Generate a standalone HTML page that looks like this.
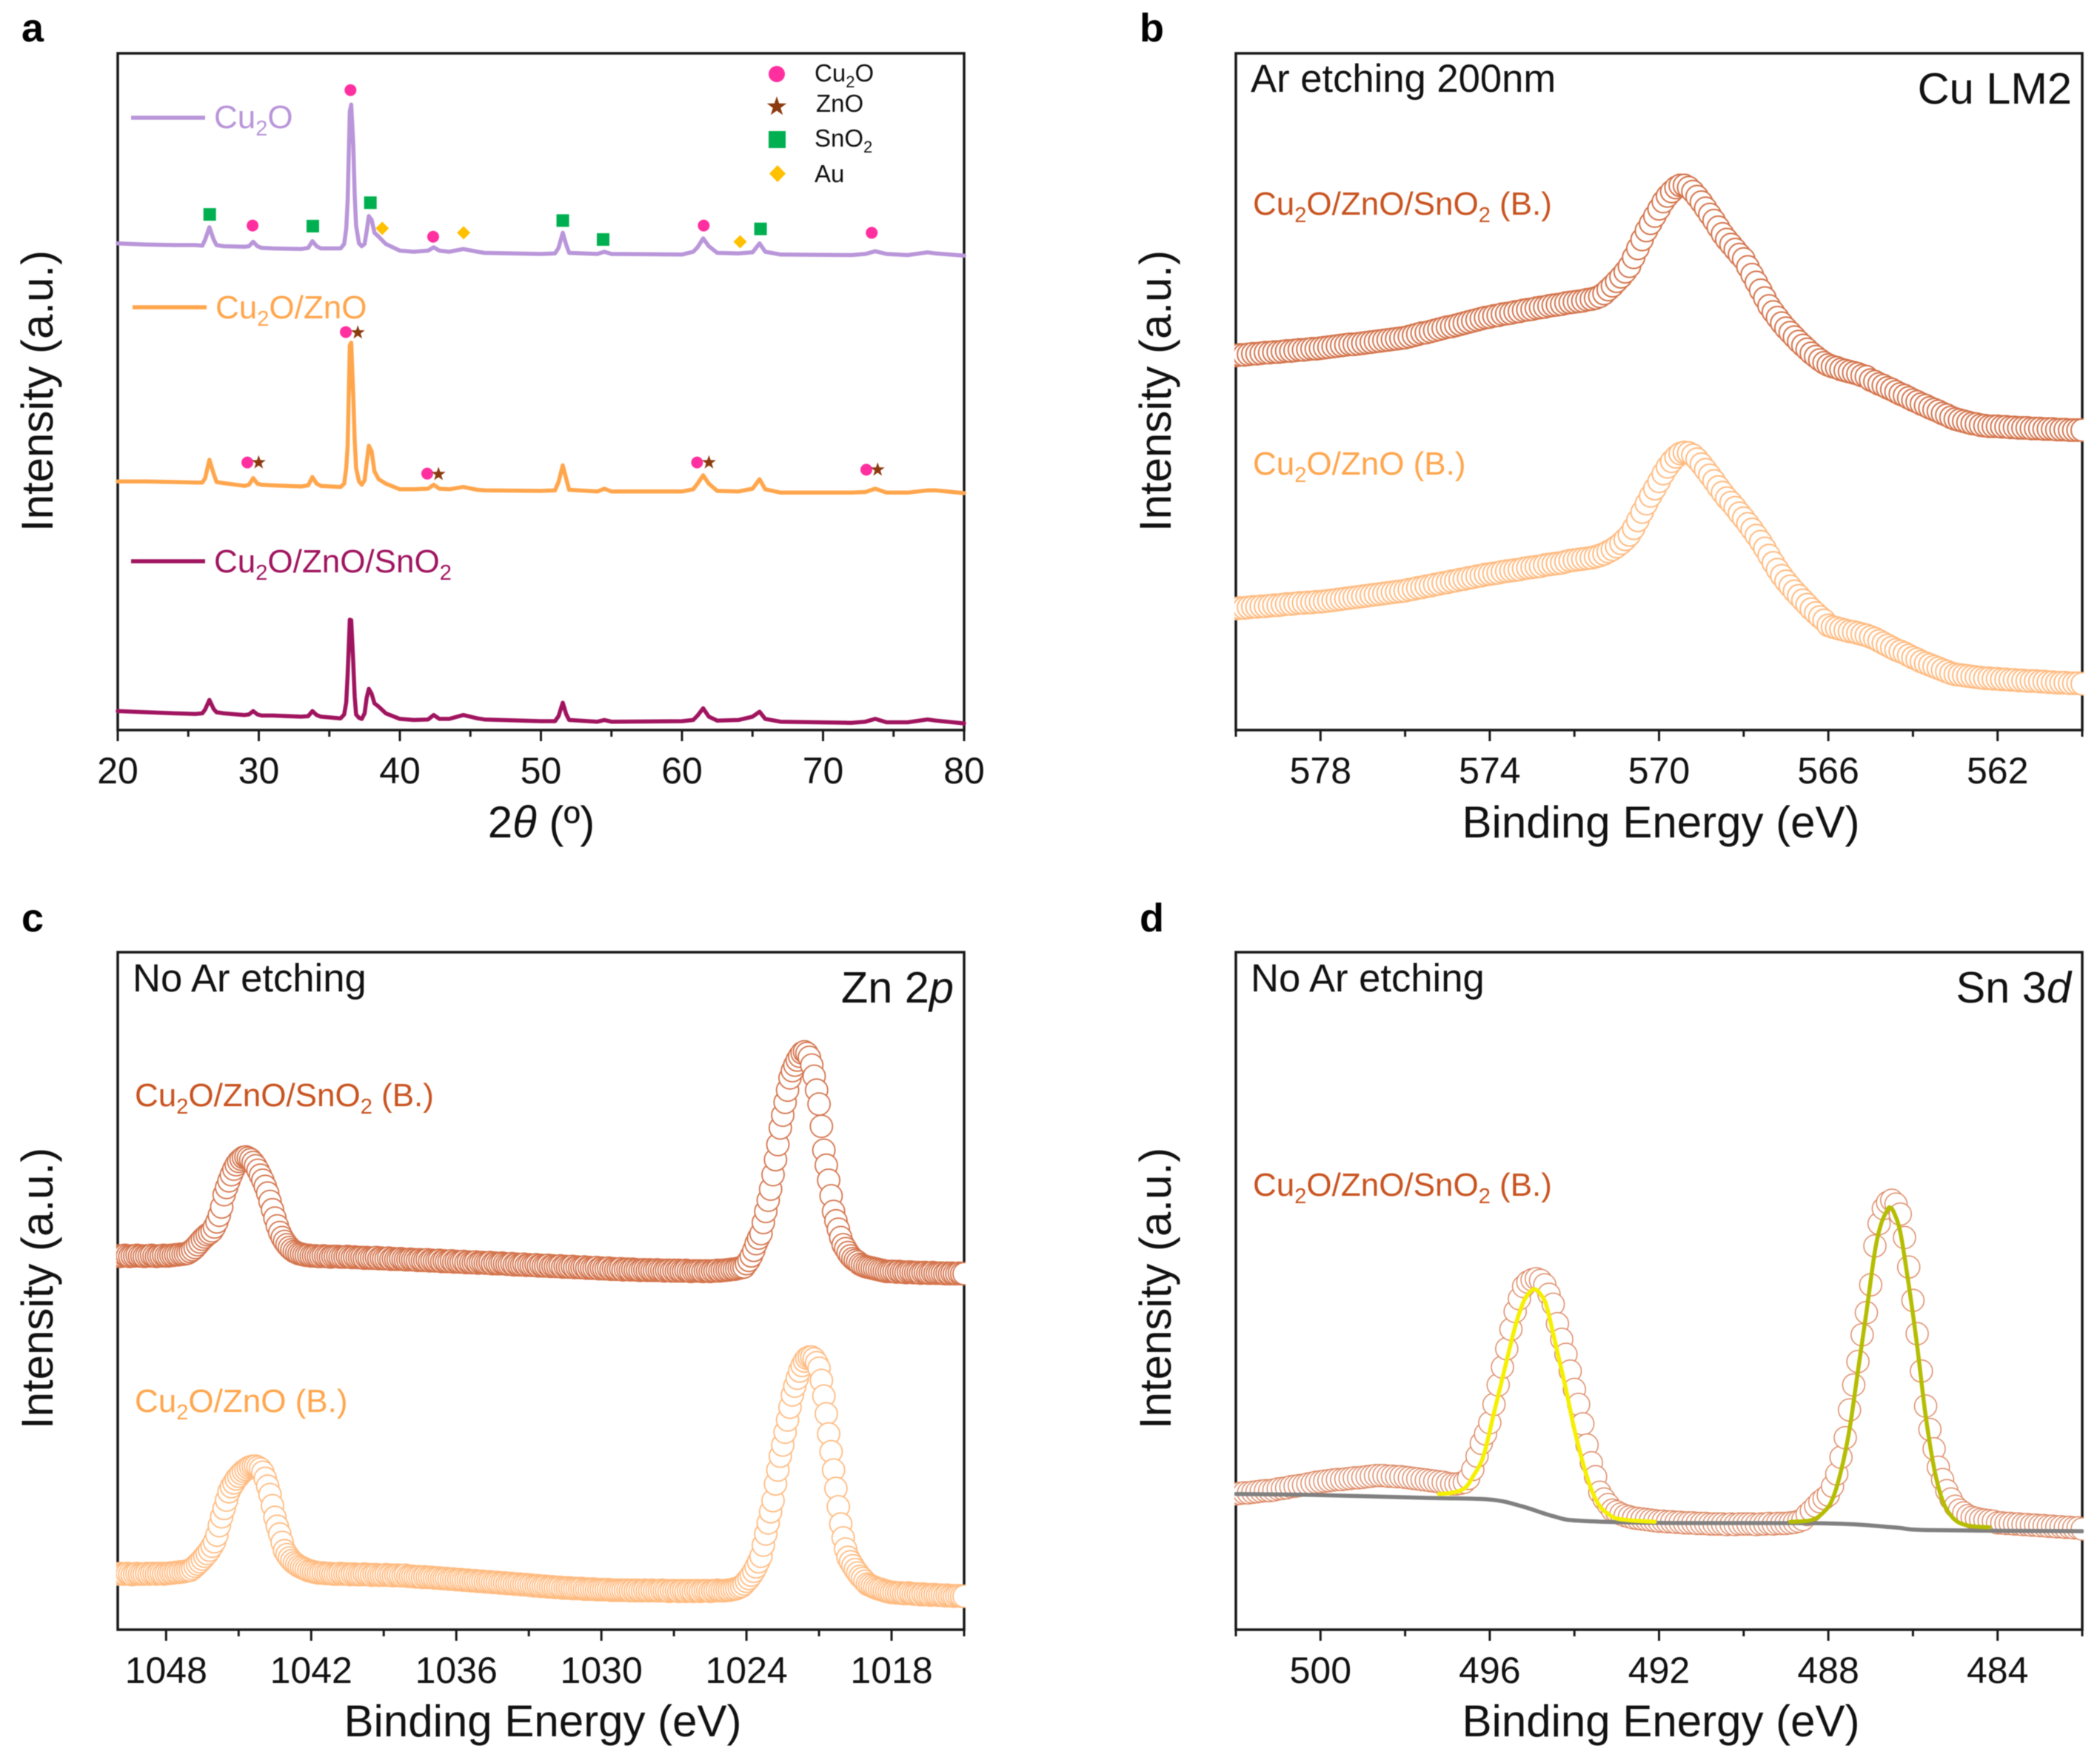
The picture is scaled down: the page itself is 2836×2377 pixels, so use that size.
<!DOCTYPE html>
<html lang="en">
<head>
<meta charset="utf-8">
<title>XRD and XPS characterization panels</title>
<style>
html,body{margin:0;padding:0;background:#fff;}
svg{display:block;filter:blur(0.6px);}
text{font-family:"Liberation Sans",Arial,sans-serif;fill:#111;}
.tick{font-size:50px;text-anchor:middle;}
.axis{font-size:60px;text-anchor:middle;}
.note{font-size:52.6px;}
.core{font-size:59.5px;}
.sample{font-size:44px;}
.leg{font-size:33px;}
.letter{font-size:54px;font-weight:bold;fill:#000;}
</style>
</head>
<body>
<svg id="figure" xmlns="http://www.w3.org/2000/svg" width="2836" height="2377" viewBox="0 0 2836 2377">
<defs>
<clipPath id="clip-b"><rect x="1667" y="72" width="1147" height="914"/></clipPath>
<clipPath id="clip-c"><rect x="157" y="1286" width="1147" height="915"/></clipPath>
<clipPath id="clip-d"><rect x="1667" y="1286" width="1147" height="915"/></clipPath>
</defs>
<rect x="0" y="0" width="2836" height="2377" fill="#ffffff"/>

<rect x="159" y="72" width="1143" height="914" fill="none" stroke="#1a1a1a" stroke-width="3.5"/>
<rect x="1669" y="72" width="1143" height="914" fill="none" stroke="#1a1a1a" stroke-width="3.5"/>
<rect x="159" y="1286" width="1143" height="915" fill="none" stroke="#1a1a1a" stroke-width="3.5"/>
<rect x="1669" y="1286" width="1143" height="915" fill="none" stroke="#1a1a1a" stroke-width="3.5"/>

<g id="layer-a"></g>
<g id="layer-b" clip-path="url(#clip-b)"></g>
<g id="layer-c" clip-path="url(#clip-c)"></g>
<g id="layer-d" clip-path="url(#clip-d)"></g>
<g id="layer-ticks"></g>

<text class="letter" x="29" y="56">a</text>
<text class="letter" x="1539" y="56">b</text>
<text class="letter" x="29" y="1258">c</text>
<text class="letter" x="1539" y="1258">d</text>

<text class="axis" transform="translate(71,528) rotate(-90)">Intensity (a.u.)</text>
<text class="axis" transform="translate(1581,528) rotate(-90)">Intensity (a.u.)</text>
<text class="axis" transform="translate(71,1740) rotate(-90)">Intensity (a.u.)</text>
<text class="axis" transform="translate(1581,1740) rotate(-90)">Intensity (a.u.)</text>

<text class="axis" x="731" y="1131">2<tspan font-style="italic">θ</tspan> (º)</text>
<text class="axis" x="2243" y="1131">Binding Energy (eV)</text>
<text class="axis" x="733" y="2345">Binding Energy (eV)</text>
<text class="axis" x="2243" y="2345">Binding Energy (eV)</text>

<text class="note" x="1689" y="124">Ar etching 200nm</text>
<text class="core" x="2798" y="140" text-anchor="end">Cu LM2</text>
<text class="note" x="179" y="1339">No Ar etching</text>
<text class="core" x="1288" y="1354" text-anchor="end">Zn 2<tspan font-style="italic">p</tspan></text>
<text class="note" x="1689" y="1339">No Ar etching</text>
<text class="core" x="2797" y="1354" text-anchor="end">Sn 3<tspan font-style="italic">d</tspan></text>

<text class="sample" x="1692" y="290" style="fill:#c9531f">Cu<tspan dy="10" font-size="29">2</tspan><tspan dy="-10">O/ZnO/SnO</tspan><tspan dy="10" font-size="29">2</tspan><tspan dy="-10"> (B.)</tspan></text>
<text class="sample" x="1692" y="641" style="fill:#ffa64d">Cu<tspan dy="10" font-size="29">2</tspan><tspan dy="-10">O/ZnO (B.)</tspan></text>
<text class="sample" x="182" y="1494" style="fill:#c9531f">Cu<tspan dy="10" font-size="29">2</tspan><tspan dy="-10">O/ZnO/SnO</tspan><tspan dy="10" font-size="29">2</tspan><tspan dy="-10"> (B.)</tspan></text>
<text class="sample" x="182" y="1907" style="fill:#ffa64d">Cu<tspan dy="10" font-size="29">2</tspan><tspan dy="-10">O/ZnO (B.)</tspan></text>
<text class="sample" x="1692" y="1615" style="fill:#c9531f">Cu<tspan dy="10" font-size="29">2</tspan><tspan dy="-10">O/ZnO/SnO</tspan><tspan dy="10" font-size="29">2</tspan><tspan dy="-10"> (B.)</tspan></text>

<line x1="177" y1="159" x2="277" y2="159" stroke="#b995d9" stroke-width="5.5"/>
<text class="sample" x="289" y="173" style="fill:#b995d9">Cu<tspan dy="10" font-size="29">2</tspan><tspan dy="-10">O</tspan></text>
<line x1="179" y1="415" x2="279" y2="415" stroke="#ffa64d" stroke-width="5.5"/>
<text class="sample" x="291" y="430" style="fill:#ffa64d">Cu<tspan dy="10" font-size="29">2</tspan><tspan dy="-10">O/ZnO</tspan></text>
<line x1="177" y1="758" x2="277" y2="758" stroke="#a0145f" stroke-width="5.5"/>
<text class="sample" x="289" y="773" style="fill:#a0145f">Cu<tspan dy="10" font-size="29">2</tspan><tspan dy="-10">O/ZnO/SnO</tspan><tspan dy="10" font-size="29">2</tspan></text>

<circle cx="1049" cy="100" r="11" fill="#ff2fa0"/>
<text class="leg" x="1100" y="110">Cu<tspan dy="8" font-size="22">2</tspan><tspan dy="-8">O</tspan></text>
<polygon points="1049,130 1052.2,139.6 1062.3,139.7 1054.2,145.7 1057.2,155.3 1049,149.5 1040.8,155.3 1043.8,145.7 1035.7,139.7 1045.8,139.6" fill="#8b3a0e"/>
<text class="leg" x="1102" y="151">ZnO</text>
<rect x="1038" y="177" width="23" height="23" fill="#00b050"/>
<text class="leg" x="1100" y="198">SnO<tspan dy="8" font-size="22">2</tspan></text>
<polygon points="1050,223 1061,234.5 1050,246 1039,234.5" fill="#ffc000"/>
<text class="leg" x="1100" y="246">Au</text>
</svg>

<script>
// ---------- Panel a: XRD ----------
const thetaA = [20,22,24,25.5,26,26.2,26.5,26.8,27,27.5,29,29.3,29.6,29.9,30.2,31,33,33.5,33.8,34.1,34.4,35.8,36.05,36.2,36.3,36.45,36.55,36.7,36.8,36.9,37.1,37.3,37.5,37.65,37.8,38,38.2,38.5,39,40,41,42,42.4,42.8,43.5,44.5,45.5,46,50,51,51.25,51.55,51.8,52,54,54.5,55,60,60.8,61.1,61.5,61.9,62.5,64,65,65.5,65.9,67,72,73,73.7,74.5,76,77.4,78,80];
const xrdCu2O = [873,871,870,870,869,880,902,880,870,868,867,868,876,868,865,864,863,865,877,868,864,864,872,900,950,1110,1122,1050,960,905,873,868,872,895,922,915,892,885,872,860,858,860,866,860,858,863,858,856,854,855,865,892,870,856,854,858,854,853,858,866,882,868,856,855,857,873,858,853,852,854,859,854,852,857,855,851];
const xrdCu2OZnO = [446,446,445,444,444,452,485,460,445,443,438,440,452,442,440,439,437,439,454,442,438,436,442,470,510,690,695,600,520,470,446,440,448,480,510,500,464,450,442,432,432,433,440,433,432,436,431,430,429,430,445,475,450,431,428,433,428,428,432,442,457,442,429,428,433,450,432,426,426,427,433,426,426,430,430,425];
const xrdTernary = [34,32,30,29,30,37,54,38,32,30,27,28,34,28,26,26,24,25,34,27,24,21,28,50,100,198,197,120,60,28,22,20,30,58,74,65,48,42,30,20,18,19,27,20,20,27,21,19,16,16,25,49,28,18,15,18,15,16,18,26,39,24,17,18,24,33,20,15,13,15,20,14,14,19,17,12];
const ticksMajorA = [20,30,40,50,60,70,80];
const ticksMinorA = [25,35,45,55,65,75];
const cu2oMarkerTheta = [29.56,36.5,42.36,61.54,73.45,36.17,29.19,41.94,61.07,73.07];
const cu2oMarkerIntensity = [905,1148,885,905,892,714,480,460,480,467];
const znoMarkerTheta = [37.02,29.99,42.74,61.91,73.87];
const znoMarkerIntensity = [713,480,459,480,467];
const sno2MarkerTheta = [26.52,33.83,37.91,51.55,54.41,65.57];
const sno2MarkerIntensity = [925,904,946,914,880,899];
const auMarkerTheta = [38.75,44.52,64.12];
const auMarkerIntensity = [900,892,876];

// ---------- Panel b: Cu LM2, scan 580 to 560 eV in 0.1 eV steps ----------
const scanStepEV = 0.1;
const ticksMajorB = [578,574,570,566,562];
const ticksMinorB = [580,576,572,568,564,560];
const cuLmTernary = [672,673,673,674,675,675,676,677,677,678,678,679,680,680,681,682,682,683,684,684,
685,686,687,688,689,690,691,692,692,693,694,695,696,697,698,699,700,701,702,703,
704,706,708,710,712,713,715,717,719,721,723,724,726,728,730,732,734,736,738,740,
741,743,744,746,747,748,750,751,753,754,755,757,758,759,761,762,763,764,766,767,
768,769,770,772,773,775,778,783,790,797,
805,813,822,832,848,864,880,896,909,922,
935,948,958,966,973,977,977,973,966,957,
947,936,925,914,902,890,880,871,862,853,
845,831,817,803,789,775,761,750,740,730,
721,713,705,697,690,683,676,670,664,659,
655,652,650,647,645,643,641,639,636,634,
628,625,621,618,614,611,607,603,600,596,
592,589,585,582,578,575,572,568,565,561,
558,556,554,552,550,549,547,546,545,545,
545,544,544,543,543,542,542,542,541,541,
541,540,540,540,539,539,539,538,538,538,
538];
const cuLmBinary = [218,219,219,220,221,221,222,222,223,224,224,225,226,226,227,228,228,229,229,230,
230,231,232,233,234,235,236,237,238,239,240,241,242,243,244,245,246,247,248,249,
250,252,253,255,256,258,259,261,262,264,265,267,268,270,271,273,274,276,277,279,
280,281,282,284,285,286,287,288,290,291,292,293,294,296,297,298,299,300,302,304,
305,306,307,308,309,311,313,316,320,324,
329,335,342,350,362,376,391,406,420,433,
446,460,472,482,490,496,498,497,493,486,
477,467,457,447,436,426,416,408,399,389,
380,370,360,349,338,326,313,300,288,277,
267,258,249,241,233,225,217,210,203,197,
188,185,183,181,179,177,176,174,172,170,
167,164,160,156,152,148,144,141,138,134,
130,127,123,120,117,114,111,108,105,102,
100,99,98,97,96,95,94,93,93,92,
92,91,91,90,90,89,89,88,88,88,
87,87,86,86,85,85,85,84,84,84,
83];

// ---------- Panel c: Zn 2p, scan 1050 to 1015 eV in 0.1 eV steps ----------
const ticksMajorC = [1048,1042,1036,1030,1024,1018];
const ticksMinorC = [1045,1039,1033,1027,1021,1015];
const zn2pTernary = [672,671,672,673,672,671,672,672,673,672,
672,671,672,672,673,672,671,672,672,673,
672,672,673,673,674,674,675,675,676,677,
680,683,687,692,697,702,706,710,713,717,
724,733,745,760,782,795,807,818,828,836,
842,846,849,850,848,845,840,834,826,817,
808,797,785,770,755,740,726,714,705,698,
692,687,683,680,678,676,675,674,673,673,
672,672,672,671,671,672,671,671,670,671,
671,671,670,670,670,671,670,669,670,669,
669,669,668,669,668,668,668,669,667,668,
667,667,668,666,667,666,666,667,666,665,
665,666,665,665,664,665,664,664,665,663,
664,663,663,664,662,663,662,662,663,661,
662,661,661,662,660,661,660,660,661,659,
660,660,659,659,660,658,659,658,658,659,
658,657,657,658,656,657,656,656,657,655,
656,655,655,656,654,655,654,654,655,653,
654,653,653,654,652,653,652,652,653,651,
652,651,651,652,650,651,650,650,651,649,
650,649,649,650,648,649,648,648,649,647,
648,648,647,648,647,647,646,647,647,646,
647,646,646,647,646,646,645,646,646,645,
646,645,646,645,645,646,645,644,645,645,
645,645,644,645,645,644,645,645,646,645,
646,646,647,647,648,648,649,650,651,652,
658,664,672,682,694,704,712,732,752,772,
792,818,845,872,902,925,948,970,992,1005,
1015,1024,1031,1037,1039,1036,1029,1015,995,970,
945,905,862,835,808,780,752,735,720,705,
692,685,678,672,667,664,661,657,655,653,
652,651,650,649,648,647,646,645,644,644,
644,644,643,644,643,643,642,643,643,642,
642,642,641,642,642,641,641,642,641,641,
641,641,640,641,640,641,640,640,641,640,
640];
const zn2pBinary = [100,101,100,100,101,100,99,100,101,100,
100,100,101,100,101,101,100,101,101,100,
101,101,102,102,103,103,104,104,105,106,
107,110,114,118,122,127,132,137,143,150,
158,170,187,203,218,233,248,257,264,271,
276,281,285,288,291,293,294,294,292,289,
283,272,258,243,223,202,186,172,157,142,
135,129,124,120,117,114,112,110,108,106,
105,104,103,102,102,102,101,101,101,100,
100,100,101,100,100,100,99,100,100,99,
99,99,100,99,99,98,99,99,98,98,
98,99,98,98,97,98,98,97,97,98,
96,96,96,95,95,95,94,95,94,94,
94,93,93,93,92,92,92,91,91,91,
90,90,90,89,89,89,88,88,88,87,
87,87,86,86,86,85,85,85,84,84,
84,83,83,83,82,82,82,81,81,81,
80,80,79,79,79,78,78,78,77,77,
77,76,76,76,75,75,75,75,74,74,
74,74,74,73,73,73,73,73,72,72,
72,72,72,72,71,71,71,71,71,71,
71,71,70,71,70,71,70,70,71,70,
70,71,70,70,70,71,70,70,69,70,
70,70,69,70,70,69,70,70,69,70,
70,69,70,70,70,69,70,70,71,70,
70,70,71,71,72,73,74,76,78,82,
87,92,98,105,113,122,132,152,172,192,
212,232,262,287,312,332,355,377,400,422,
438,452,465,475,483,488,490,490,487,480,
470,448,420,388,352,320,287,254,221,190,
165,145,130,122,115,108,102,96,92,87,
82,80,78,76,74,73,72,70,69,68,
67,67,66,66,66,65,65,66,65,64,
64,64,63,64,63,63,62,63,63,62,
62,62,61,62,61,61,60,61,61,60,
60];

// ---------- Panel d: Sn 3d, scan 502 to 482 eV in 0.1 eV steps ----------
const ticksMajorD = [500,496,492,488,484];
const ticksMinorD = [502,498,494,490,486,482];
const sn3dTernary = [244,245,246,246,247,248,249,250,250,251,
253,254,255,257,258,259,260,262,263,265,
266,267,268,269,270,270,271,272,273,273,
274,275,276,277,277,277,276,276,275,275,
274,273,272,271,270,269,268,267,266,265,
263,262,262,263,265,272,288,312,335,352,
372,405,440,472,505,540,572,595,617,625,
629,631,628,620,603,585,550,522,495,465,
432,405,370,332,300,275,247,235,225,215,
212,208,205,203,201,200,199,198,197,196,
195,195,194,194,193,193,192,192,192,191,
191,191,190,190,190,190,189,190,189,190,
190,190,190,189,190,190,191,190,191,191,
191,192,193,195,198,207,214,222,230,236,
242,258,280,310,345,395,440,482,530,570,
620,690,730,757,768,772,765,747,705,652,
592,532,465,402,360,325,292,270,250,235,
222,215,210,205,202,200,198,197,196,195,
192,192,191,191,190,190,189,189,188,188,
187,187,186,186,185,185,184,184,183,183,
181];
const fitHighEnergyE = [497.2,496.9,496.6,496.4,496.15,495.9,495.7,495.4,495.2,495.05,494.93,494.8,494.66,494.45,494.2,494.0,493.77,493.6,493.4,493.2,493,492.6,492.1];
const fitHighEnergyI = [244,246,254,275,312,390,452,545,590,607,612,603,582,515,432,360,292,252,222,208,200,196,194];
const fitLowEnergyE = [488.9,488.4,488.1,487.9,487.7,487.5,487.3,487.1,486.9,486.75,486.6,486.54,486.45,486.3,486.1,485.9,485.7,485.5,485.3,485.1,484.9,484.6,484.2];
const fitLowEnergyI = [194,197,212,235,285,360,465,570,680,730,755,759,750,715,620,510,385,290,232,205,192,186,184];
const backgroundE = [502,500,497.5,496,495.25,494.5,493.9,492,488,486.46,485.6,482];
const backgroundI = [244,242,237,234,222,204,196,192,191,184,179,177];

// ---------- Axis definitions ----------
const panelA = {left:159,right:1302,top:72,bottom:986,xStart:20,xEnd:80,yMax:1214};
const panelB = {left:1669,right:2812,top:72,bottom:986,xStart:580,xEnd:560,yMax:1214};
const panelC = {left:159,right:1302,top:1286,bottom:2201,xStart:1050,xEnd:1015,yMax:1218};
const panelD = {left:1669,right:2812,top:1286,bottom:2201,xStart:502,xEnd:482,yMax:1218};

function axisX(p, v) {
  return p.left + (v - p.xStart) * (p.right - p.left) / (p.xEnd - p.xStart);
}
function axisY(p, v) {
  return p.bottom - v * (p.bottom - p.top) / p.yMax;
}
const SVGNS = 'http://www.w3.org/2000/svg';
function make(tag, attrs, parent) {
  const el = document.createElementNS(SVGNS, tag);
  for (const k in attrs) el.setAttribute(k, attrs[k]);
  parent.appendChild(el);
  return el;
}

// ---------- Ticks ----------
const tickLayer = document.getElementById('layer-ticks');
function drawTicks(p, majors, minors) {
  majors.forEach(function (v) {
    const x = axisX(p, v);
    const t = make('line', {x1:x, x2:x, y1:p.bottom, y2:p.bottom + 15, stroke:'#1a1a1a', 'stroke-width':3}, tickLayer);
    
    
    const lab = make('text', {x:x, y:p.bottom + 72, class:'tick'}, tickLayer);
    lab.textContent = String(v);
    
    
  });
  minors.forEach(function (v) {
    const x = axisX(p, v);
    const t = make('line', {x1:x, x2:x, y1:p.bottom, y2:p.bottom + 9, stroke:'#1a1a1a', 'stroke-width':3}, tickLayer);
    
    
  });
}
drawTicks(panelA, ticksMajorA, ticksMinorA);
drawTicks(panelB, ticksMajorB, ticksMinorB);
drawTicks(panelC, ticksMajorC, ticksMinorC);
drawTicks(panelD, ticksMajorD, ticksMinorD);

// ---------- Panel a lines and phase markers ----------
const layerA = document.getElementById('layer-a');
function drawLine(p, xs, ys, color, parent, name) {
  const pts = xs.map(function (x, i) { return axisX(p, x).toFixed(1) + ',' + axisY(p, ys[i]).toFixed(1); }).join(' ');
  const el = make('polyline', {points:pts, fill:'none', stroke:color, 'stroke-width':5.5, 'stroke-linejoin':'round', 'stroke-linecap':'round'}, parent);
  
  
}
drawLine(panelA, thetaA, xrdCu2O, '#b995d9', layerA, 'xrd-line-cu2o');
drawLine(panelA, thetaA, xrdCu2OZnO, '#ffa64d', layerA, 'xrd-line-cu2o-zno');
drawLine(panelA, thetaA, xrdTernary, '#a0145f', layerA, 'xrd-line-ternary');

cu2oMarkerTheta.forEach(function (t, i) {
  const el = make('circle', {cx:axisX(panelA, t), cy:axisY(panelA, cu2oMarkerIntensity[i]), r:8, fill:'#ff2fa0'}, layerA);
  
  
});
znoMarkerTheta.forEach(function (t, i) {
  const cx = axisX(panelA, t), cy = axisY(panelA, znoMarkerIntensity[i]);
  const pts = [];
  for (let k = 0; k < 10; k++) {
    const r = k % 2 ? 4 : 10;
    const a = -Math.PI / 2 + k * Math.PI / 5;
    pts.push((cx + r * Math.cos(a)).toFixed(1) + ',' + (cy + r * Math.sin(a)).toFixed(1));
  }
  const el = make('polygon', {points:pts.join(' '), fill:'#8b3a0e'}, layerA);
  
  
});
sno2MarkerTheta.forEach(function (t, i) {
  const cx = axisX(panelA, t), cy = axisY(panelA, sno2MarkerIntensity[i]);
  const el = make('rect', {x:cx - 8.5, y:cy - 8.5, width:17, height:17, fill:'#00b050'}, layerA);
  
  
});
auMarkerTheta.forEach(function (t, i) {
  const cx = axisX(panelA, t), cy = axisY(panelA, auMarkerIntensity[i]);
  const el = make('polygon', {points:cx + ',' + (cy - 9) + ' ' + (cx + 9) + ',' + cy + ' ' + cx + ',' + (cy + 9) + ' ' + (cx - 9) + ',' + cy, fill:'#ffc000'}, layerA);
  
  
});

// ---------- XPS ring scatter ----------
function drawRings(p, values, color, width, parent, name) {
  const g = make('g', {}, parent);
  
  
  values.forEach(function (v, i) {
    const energy = p.xStart - i * scanStepEV;
    const c = make('circle', {cx:axisX(p, energy).toFixed(1), cy:axisY(p, v).toFixed(1), r:15, fill:'#ffffff', stroke:color, 'stroke-width':width}, g);
    
    
  });
}
const ternaryRing = '#d4744c';
const binaryRing = '#ffbb80';
drawRings(panelB, cuLmTernary, ternaryRing, 2, document.getElementById('layer-b'), 'cu-lm2-series-ternary');
drawRings(panelB, cuLmBinary, binaryRing, 2, document.getElementById('layer-b'), 'cu-lm2-series-binary');
drawRings(panelC, zn2pTernary, ternaryRing, 1.8, document.getElementById('layer-c'), 'zn-2p-series-ternary');
drawRings(panelC, zn2pBinary, binaryRing, 1.8, document.getElementById('layer-c'), 'zn-2p-series-binary');
const layerD = document.getElementById('layer-d');
drawRings(panelD, sn3dTernary, '#dd8a66', 1.5, layerD, 'sn-3d-series-ternary');

// ---------- Panel d fit lines ----------
function drawSmooth(p, xs, ys, color, parent, name) {
  const px = xs.map(function (x) { return axisX(p, x); });
  const py = ys.map(function (y) { return axisY(p, y); });
  let d = 'M' + px[0].toFixed(1) + ' ' + py[0].toFixed(1);
  for (let i = 0; i < px.length - 1; i++) {
    const a = Math.max(i - 1, 0), b = Math.min(i + 2, px.length - 1);
    const c1x = px[i] + (px[i + 1] - px[a]) / 6, c1y = py[i] + (py[i + 1] - py[a]) / 6;
    const c2x = px[i + 1] - (px[b] - px[i]) / 6, c2y = py[i + 1] - (py[b] - py[i]) / 6;
    d += 'C' + c1x.toFixed(1) + ' ' + c1y.toFixed(1) + ' ' + c2x.toFixed(1) + ' ' + c2y.toFixed(1) + ' ' + px[i + 1].toFixed(1) + ' ' + py[i + 1].toFixed(1);
  }
  const el = make('path', {d:d, fill:'none', stroke:color, 'stroke-width':5.5, 'stroke-linecap':'round', 'stroke-linejoin':'round'}, parent);
  
  
}
drawSmooth(panelD, backgroundE, backgroundI, '#808080', layerD, 'sn-3d-background-line');
drawSmooth(panelD, fitHighEnergyE, fitHighEnergyI, '#f5f000', layerD, 'sn-3d-fit-high-energy');
drawSmooth(panelD, fitLowEnergyE, fitLowEnergyI, '#b5bd00', layerD, 'sn-3d-fit-low-energy');
</script>
</body>
</html>
